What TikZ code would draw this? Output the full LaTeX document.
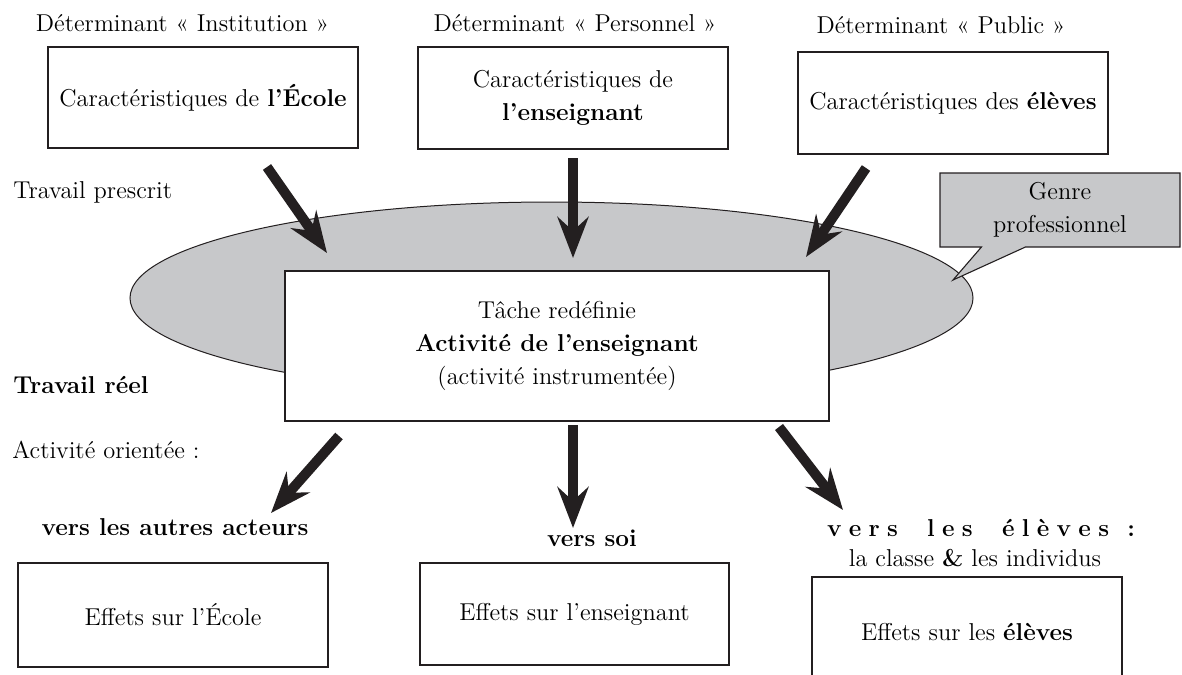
\documentclass[tikz,border=0pt]{standalone}
\usepackage{fontspec}
\usetikzlibrary{arrows.meta,shapes.callouts}
\definecolor{gfill}{RGB}{199,200,202}
\definecolor{edge}{RGB}{35,31,32}
\newcommand\lsp{\hskip 0pt plus 1fil\relax}
\newcommand\wsp{\hskip 0pt plus 4fil\relax}
\newcommand\csp{\hskip 0pt plus 2.5fil\relax}
\begin{document}
\begin{tikzpicture}[x=0.5pt,y=-0.5pt,
  font=\fontsize{12.2}{16.3}\selectfont,
  box/.style={draw=edge,line width=0.55pt,fill=white,inner sep=0pt,align=center},
  lbl/.style={inner sep=0pt,align=center},
  thinline/.style={draw=edge,line width=0.55pt},
  big/.style={line width=5pt,draw=edge,-{Stealth[length=20.5pt,width=15.5pt,inset=7pt]}}]
\useasboundingbox (0,0) rectangle (1182,674);

% labels on top
\node[lbl] (d1) at (182.5,23) {Déterminant « Institution »};
\node[lbl] (d2) at (575,23) {Déterminant « Personnel »};
\node[lbl] (d3) at (941,25) {Déterminant « Public »};

% top boxes
\node[box,minimum width=155pt,minimum height=50.5pt] (b1) at (203,97.5) {Caractéristiques de \textbf{l’École}};
\node[box,minimum width=155pt,minimum height=51pt] (b2) at (573,98) {Caractéristiques de\\\textbf{l’enseignant}};
\node[box,minimum width=155pt,minimum height=51pt] (b3) at (953,103) {Caractéristiques des \textbf{élèves}};

% side labels
\node[lbl,anchor=west] (tp) at (13,192) {Travail prescrit};
\node[lbl,anchor=west] (tr) at (13,385) {\textbf{Travail réel}};
\node[lbl,anchor=west] (ao) at (12,450) {Activité orientée :};

% ellipse
\path[draw=edge,line width=0.5pt,fill=gfill] (551.5,298) ellipse [x radius=210.75pt, y radius=48pt];

% callout
\node[rectangle callout,draw=edge,fill=gfill,line width=0.55pt,minimum width=120pt,minimum height=37pt,
  inner sep=0pt,align=center,callout absolute pointer={(953,280)},callout pointer width=22pt] (genre) at (1060,210) {Genre\\professionnel};

% central box
\node[box,minimum width=272pt,minimum height=75pt] (c) at (557,346) {Tâche redéfinie\\\textbf{Activité de l’enseignant}\\(activité instrumentée)};

% top arrows
\coordinate (a1s) at (267,167); \coordinate (a1e) at (327,253);
\coordinate (a2s) at (573,158); \coordinate (a2e) at (573,258);
\coordinate (a3s) at (866,168); \coordinate (a3e) at (806,257);
\draw[big] (a1s) -- (a1e);
\draw[big] (a2s) -- (a2e);
\draw[big] (a3s) -- (a3e);

% bottom arrows
\coordinate (a4s) at (339,436); \coordinate (a4e) at (271,513);
\coordinate (a5s) at (573,425); \coordinate (a5e) at (573,528);
\coordinate (a6s) at (779,427); \coordinate (a6e) at (843,510);
\draw[big] (a4s) -- (a4e);
\draw[big] (a5s) -- (a5e);
\draw[big] (a6s) -- (a6e);

% bottom labels
\node[lbl] (v1) at (175,527) {\textbf{vers les autres acteurs}};
\node[lbl] (v2) at (592,538) {\textbf{vers soi}};
\node[lbl] (v3) at (981,528) {\hbox to 154pt{\bfseries v\lsp e\lsp r\lsp s\wsp l\lsp e\lsp s\wsp é\lsp l\lsp è\lsp v\lsp e\lsp s\csp :}};
\node[lbl] (v3b) at (975,558) {la classe \textbf{\&} les individus};

% bottom boxes
\node[box,minimum width=155pt,minimum height=52pt] (e1) at (173,615) {Effets sur l’École};
\node[box,minimum width=154.5pt,minimum height=51pt] (e2) at (574.5,614) {Effets sur l’enseignant};
\node[lbl] (e3) at (967,632) {Effets sur les \textbf{élèves}};
\draw[thinline] (812,690) -- (812,577) -- (1122,577) -- (1122,690);
\end{tikzpicture}
\end{document}
